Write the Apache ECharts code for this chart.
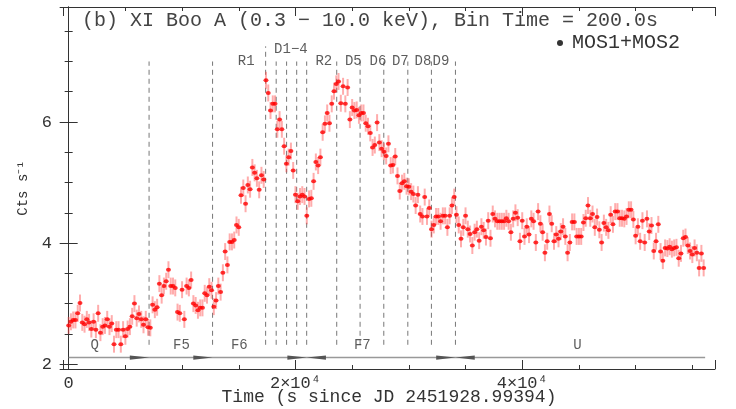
<!DOCTYPE html>
<html>
<head>
<meta charset="utf-8">
<script src="https://cdn.jsdelivr.net/npm/echarts@6/dist/echarts.min.js"></script>
<style>
html, body { margin: 0; padding: 0; background: #fff; }
#main { width: 736px; height: 409px; }
</style>
</head>
<body>
<div id="main"></div>
<script>
// light curve, 200 s bins starting at t = 0
const binTime = 200
const rates = [
    // Q
    2.64, 2.70, 2.73, 2.73, 2.84, 3.01, 2.69, 2.66, 2.74, 2.69, 2.58, 2.70, 2.57, 2.84, 2.52, 2.62, 2.64, 2.74, 2.62, 2.67,
    2.33, 2.57, 2.57, 2.33, 2.57, 2.46, 2.58, 2.62, 2.79, 3.00, 2.76, 2.83, 2.74, 2.65, 2.74, 2.61, 2.60,
    // F5
    2.98, 2.90, 2.94, 3.33, 3.14, 3.29, 3.37, 3.56, 3.29, 3.29, 3.26, 2.86, 2.84, 3.23, 2.74, 3.29, 3.26, 3.39, 3.00, 2.97,
    2.89, 2.93, 2.93, 3.17, 3.14, 3.28, 3.22,
    // F6
    2.95, 3.05, 3.29, 3.19, 3.51, 3.86, 3.64, 4.02, 4.02, 4.05, 4.30, 4.26, 4.79, 4.91, 4.65, 4.96, 4.89, 5.25, 5.16, 5.07,
    4.88, 5.12, 5.05,
    // R1 .. D5
    6.69, 6.48, 6.19, 6.30, 6.30, 5.88, 6.04, 5.88, 5.60, 5.31, 5.42, 5.52, 5.20, 4.80, 4.69, 4.77, 4.80, 4.77, 4.45, 4.73,
    4.74, 5.02, 5.34, 5.28, 5.42, 5.83, 5.97, 6.15, 5.98, 6.30, 6.51, 6.63, 6.67, 6.31, 6.59, 6.30, 6.57, 6.04, 6.24, 6.19,
    // decay
    6.20, 6.11, 6.15, 6.15, 5.98, 5.93, 5.82, 5.58, 5.62, 5.99, 5.66, 5.56, 5.51, 5.44, 5.64, 5.28, 5.29, 5.43, 5.11, 4.86,
    4.99, 5.02, 4.94, 4.93, 4.85, 4.81, 4.62, 4.80, 4.48, 4.44, 4.76, 4.44, 4.58, 4.23, 4.30, 4.44, 4.44, 4.36, 4.45, 4.45,
    4.26, 4.45, 4.62, 4.76, 4.47, 4.30, 4.07, 4.26, 4.45,
    // U
    4.23, 4.15, 3.96, 4.18, 4.23, 4.04, 4.27, 4.21, 4.10, 4.37, 4.08, 4.48, 4.40, 4.36, 4.36, 4.36, 4.36, 4.41, 4.36, 4.18,
    4.40, 4.50, 4.42, 4.03, 4.37, 4.11, 4.27, 4.14, 4.40, 4.36, 4.01, 4.52, 4.32, 4.18, 3.84, 4.03, 4.48, 4.32, 4.03, 4.14,
    4.07, 4.19, 4.27, 4.11, 3.84, 4.01, 4.35, 4.35, 4.11, 4.11, 4.11, 4.34,
    4.41, 4.62, 4.41, 4.48, 4.26, 4.43, 4.22, 4.01, 4.33, 4.26, 4.21, 4.47, 4.31, 4.52, 4.52, 4.41, 4.41, 4.40, 4.44, 4.55,
    4.55, 4.39, 4.12, 4.27, 4.03, 4.37, 4.01, 4.40, 4.19, 4.29, 3.87, 4.03, 4.31, 3.86, 3.71, 3.92, 3.91, 3.94, 3.90, 3.92,
    3.93, 3.75, 3.83, 4.08, 4.10, 3.96, 3.87, 3.81, 3.92, 3.84, 3.59, 3.83, 3.59
]
const errHalf = 0.14

// dashed segment markers (s)
const markerTimes = [7090, 12690, 17370, 18300, 19220, 20110, 20990, 23640, 25700, 27790, 29910, 31990, 34110]
const markerTops = [7.0, 7.0, 7.25, 7.0, 7.0, 7.0, 7.0, 7.0, 7.0, 7.0, 7.0, 7.0, 7.0]
const markerBottom = 2.32
// marker labels: name, centre time, height
const markerNames = ['R1', 'D1−4', 'R2', 'D5', 'D6', 'D7', 'D8', 'D9']
const markerLabelTimes = [15660, 19600, 22500, 25100, 27270, 29250, 31240, 32830]
const markerLabelY = [7.0, 7.2, 7.0, 7.0, 7.0, 7.0, 7.0, 7.0]

// phases along the bottom
const phaseNames = ['Q', 'F5', 'F6', 'F7', 'U']
const phaseLabelTimes = [2300, 9950, 15050, 25900, 44860]
const phaseLabelY = 2.31
const phaseStart = 0
const phaseEnd = 56130
const arrowY = 2.109
// [tip time, direction]
const arrowHeads = [[7090, 1], [12690, 1], [20990, 1], [20990, -1], [34110, 1], [34110, -1]]
const arrowLen = 1700
const arrowHalf = 0.035

const font = 'Liberation Mono'
const ink = '#333'

let myChart = echarts.init(document.getElementById('main'))

const points = rates.map((r, i) => [i * binTime, r])
const bars = rates.map((r, i) => [i * binTime, r, errHalf])

const xBase = {
    type: 'value', min: -500, max: 57000, splitNumber: 3,
    axisLine: {show: true, lineStyle: {color: ink, width: 1}},
    axisTick: {show: true, inside: true, length: 9, lineStyle: {color: ink}},
    minorTick: {show: true, splitNumber: 4, length: 4, lineStyle: {color: ink}},
    splitLine: {show: false}
}
const yBase = {
    type: 'value', min: 1.92, max: 7.9, splitNumber: 3,
    axisLine: {show: true, lineStyle: {color: ink, width: 1}},
    axisTick: {show: true, inside: true, length: 9, lineStyle: {color: ink}},
    minorTick: {show: true, splitNumber: 4, length: 4, lineStyle: {color: ink}},
    splitLine: {show: false}
}

let option = {
    animation: false,
    title: {
        text: '(b) XI Boo A (0.3 − 10.0 keV), Bin Time = 200.0s',
        left: 82, top: 11, padding: 0,
        textStyle: {fontFamily: font, fontSize: 20, fontWeight: 'normal', color: '#444'}
    },
    legend: {
        left: 552, top: 28, itemWidth: 14, itemHeight: 6,
        data: [{name: 'MOS1+MOS2', icon: 'circle', itemStyle: {color: '#000'}}],
        textStyle: {fontFamily: font, fontSize: 20, color: ink}
    },
    grid: {left: 63, right: 21, top: 7, bottom: 40, outerBoundsMode: 'none'},
    xAxis: [
        Object.assign({}, xBase, {
            position: 'bottom',
            name: 'Time (s since JD 2451928.99394)',
            nameLocation: 'middle', nameGap: 19, nameMoveOverlap: false,
            nameTextStyle: {fontFamily: font, fontSize: 18, color: ink},
            axisLabel: {
                margin: 6, fontFamily: font, fontSize: 17, color: ink,
                showMinLabel: false, showMaxLabel: false,
                formatter: v => v === 0 ? '0' : (v === 20000 ? '2×10⁴' : (v === 40000 ? '4×10⁴' : ''))
            }
        }),
        Object.assign({}, xBase, {position: 'top', axisLabel: {show: false}})
    ],
    yAxis: [
        Object.assign({}, yBase, {
            position: 'left',
            name: 'Cts s⁻¹',
            nameLocation: 'middle', nameGap: 33, nameRotate: 90, nameMoveOverlap: false,
            nameTextStyle: {fontFamily: font, fontSize: 14, color: ink},
            axisLabel: {
                margin: 11, fontFamily: font, fontSize: 17, color: ink,
                showMinLabel: false, showMaxLabel: false,
                formatter: v => [2, 4, 6].includes(v) ? String(v) : ''
            }
        }),
        Object.assign({}, yBase, {position: 'right', axisLabel: {show: false}})
    ],
    series: [
        {
            // dashed markers
            type: 'custom', silent: true, z: 1,
            data: markerTimes.map((t, i) => [t, markerBottom, markerTops[i]]),
            renderItem: (params, api) => {
                let a = api.coord([api.value(0), api.value(1)])
                let b = api.coord([api.value(0), api.value(2)])
                return {type: 'line', shape: {x1: a[0], y1: a[1], x2: b[0], y2: b[1]},
                    style: {stroke: '#777', lineWidth: 1, lineDash: [5, 4]}}
            }
        },
        {
            // phase base line
            type: 'line', silent: true, z: 1, showSymbol: false,
            data: [[phaseStart, arrowY], [phaseEnd, arrowY]],
            lineStyle: {color: '#999', width: 1.5}
        },
        {
            // arrow heads
            type: 'custom', silent: true, z: 2,
            data: arrowHeads,
            renderItem: (params, api) => {
                let t = api.value(0), d = api.value(1)
                let tip = api.coord([t, arrowY])
                let b1 = api.coord([t - d * arrowLen, arrowY + arrowHalf])
                let b2 = api.coord([t - d * arrowLen, arrowY - arrowHalf])
                return {type: 'polygon', shape: {points: [tip, b1, b2]}, style: {fill: '#555'}}
            }
        },
        {
            // error bars
            type: 'custom', silent: true, z: 3,
            data: bars,
            renderItem: (params, api) => {
                let x = api.value(0), y = api.value(1), e = api.value(2)
                let a = api.coord([x, y + e])
                let b = api.coord([x, y - e])
                return {type: 'line', shape: {x1: a[0], y1: a[1], x2: b[0], y2: b[1]},
                    style: {stroke: 'rgba(255,70,70,0.45)', lineWidth: 2}}
            }
        },
        {
            name: 'MOS1+MOS2',
            type: 'scatter', z: 4, silent: true,
            symbol: 'circle', symbolSize: [5, 4],
            itemStyle: {color: '#ff0000'},
            data: points
        },
        {
            // marker labels
            type: 'scatter', silent: true, z: 5, symbolSize: 0,
            data: markerNames.map((n, i) => [markerLabelTimes[i], markerLabelY[i], n]),
            label: {show: true, position: 'inside', formatter: p => p.value[2],
                fontFamily: font, fontSize: 14, color: ink}
        },
        {
            // phase labels
            type: 'scatter', silent: true, z: 5, symbolSize: 0,
            data: phaseNames.map((n, i) => [phaseLabelTimes[i], phaseLabelY, n]),
            label: {show: true, position: 'inside', formatter: p => p.value[2],
                fontFamily: font, fontSize: 14, color: ink}
        }
    ]
}
myChart.setOption(option)
</script>
</body>
</html>
